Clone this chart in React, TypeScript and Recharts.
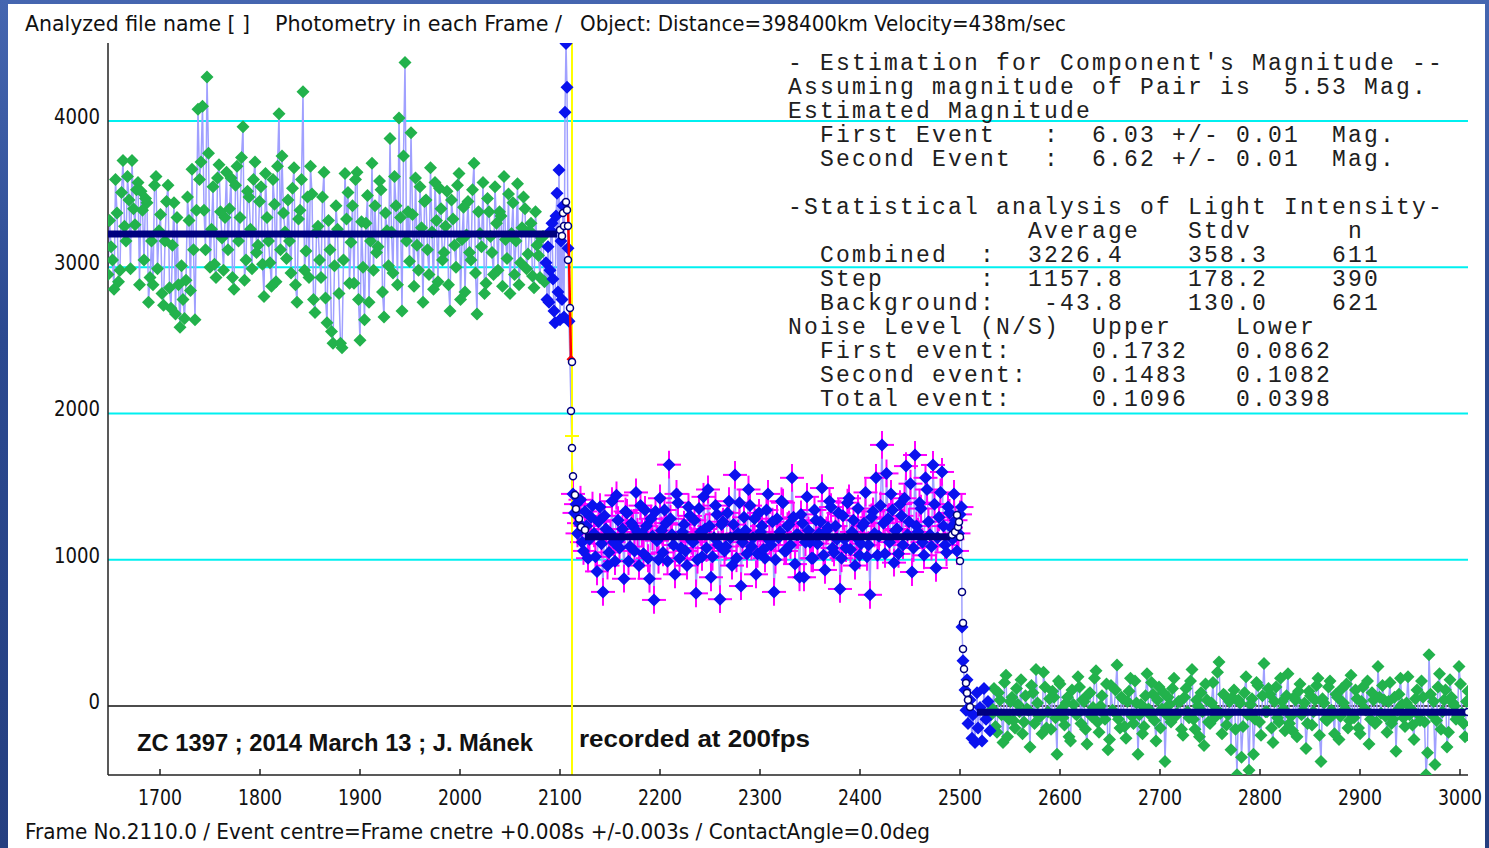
import React from 'react';
import {
  ComposedChart,
  Line,
  Scatter,
  XAxis,
  YAxis,
  CartesianGrid,
  ReferenceLine,
  ErrorBar,
} from 'recharts';

const W = 1489;
const H = 848;

const X_TICKS = [1700, 1800, 1900, 2000, 2100, 2200, 2300, 2400, 2500, 2600, 2700, 2800, 2900, 3000];
const Y_TICKS = [0, 1000, 2000, 3000, 4000];
const GRID_VALUES = [1000, 2000, 3000, 4000];

// combined light (star + companion); two interleaved field samples, every 3rd frame
const COMBINED_START = 1648;
const COMBINED_STEP = 3;
const COMBINED_VALUES = [
  2950, 3140, 2850, 3370, 2980, 3730, 3180, 3460, 3730, 3290,
  3580, 3520, 3050, 3440, 2930, 2880, 3620, 3250, 2820, 3180,
  3560, 2720, 3440, 3340, 2590, 2780, 2910, 3320, 3670, 2640,
  4080, 3720, 3390, 4300, 3000, 3550, 2930, 3700, 3200, 3340,
  3120, 3610, 2850, 3690, 3340, 3960, 3050, 3480, 2990, 3720,
  3150, 3550, 2800, 3340, 3030, 3600, 2900, 4050, 3760, 3240,
  3460, 2960, 3680, 2760, 3390, 4200, 3110, 2930, 3500, 2690,
  3280, 2930, 3650, 2620, 3120, 2480, 3420, 2820, 2450, 3640,
  3510, 3170, 2890, 3650, 2500, 3000, 3300, 2760, 3710, 3420,
  3140, 3530, 2660, 3250, 3880, 2960, 3420, 4020, 2700, 4400,
  3380, 3920, 2870, 3150, 3550, 2760, 3460, 2950, 3240, 3580,
  2900, 3400, 3100, 3520, 2700, 3330, 3000, 3640, 3190, 2830,
  3450, 3050, 3710, 2680, 3230, 3580, 2890, 3380, 3100, 3550,
  2980, 3350, 3620, 3060, 2820, 3440, 3180, 2880, 3270, 3400,
  3090, 3300, 2860, 3150, 2930, 3210,
];
const COMBINED_START_2 = 1649.5;
const COMBINED_VALUES_2 = [
  3320, 3050, 3600, 2900, 3510, 3280, 3620, 2990, 3400, 3530,
  2880, 3390, 3470, 2760, 3180, 3560, 2990, 3360, 2740, 3450,
  2860, 3150, 2680, 2880, 3010, 2650, 3480, 2840, 3120, 3390,
  3600, 4100, 3120, 3780, 3260, 3020, 3610, 3380, 2980, 3650,
  3400, 2930, 3560, 3180, 3750, 2910, 3520, 3260, 3600, 3100,
  3450, 3020, 3640, 3180, 2870, 3430, 3690, 3120, 3370, 3060,
  3180, 3540, 2880, 3330, 3600, 2980, 3480, 3690, 2780, 3240,
  3050, 3480, 2790, 3320, 2560, 3010, 3260, 2480, 3050, 3330,
  2890, 3420, 3600, 2780, 3310, 2640, 3490, 3180, 2980, 3100,
  3590, 2830, 3370, 3010, 3240, 3620, 2880, 3340, 3760, 3180,
  3040, 3360, 3610, 2980, 3270, 3450, 3120, 3680, 2850, 3320,
  3540, 3050, 3280, 2880, 3460, 3150, 3560, 2780, 3410, 3220,
  3100, 3530, 2960, 3380, 3140, 2820, 3470, 3210, 2950, 3300,
  3380, 2870, 3190, 3500, 3230, 2950, 3570, 3030, 3480, 2990,
  3250, 2940, 3380, 3080, 3200, 2900,
];

// frames just before the first event (blue)
const PRE_FRAMES = [2086, 2087, 2088, 2089, 2090, 2091, 2092, 2093, 2094, 2095, 2096, 2097, 2098, 2099, 2100, 2101, 2102, 2103, 2104, 2105, 2106, 2107, 2108, 2109];
const PRE_VALUES = [3030, 2780, 3140, 2760, 2980, 3250, 3300, 2920, 2700, 2620, 3350, 3505, 2830, 3665, 2640, 3180, 2780, 3420, 2660, 4060, 4530, 4230, 3130, 2630];

// step (one component hidden)
const STEP_START = 2113;
const STEP_STEP = 3;
const STEP_VALUES = [
  1450, 1380, 1250, 1120, 1330, 1010, 1290, 1180, 920, 1360,
  780, 1210, 1050, 1400, 990, 1270, 1150, 870, 1320, 1090,
  1230, 1460, 960, 1180, 1340, 1010, 1280, 725, 1130, 1420,
  1050, 1250, 1650, 1170, 900, 1390, 1080, 1240, 960, 1300,
  1120, 770, 1350, 1020, 1210, 1480, 880, 1150, 1310, 730,
  1260, 1090, 1400, 960, 1580, 1180, 820, 1290, 1040, 1370,
  1150, 900, 1320, 1230, 1010, 1450, 1100, 780, 1280, 1190,
  1390, 1060, 1240, 1560, 970, 1170, 1310, 880, 1430, 1120,
  1010, 1270, 1180, 1490, 930, 1220, 1360, 1050, 1140, 800,
  1300, 1080, 1420, 1190, 960, 1350, 1110, 1250, 1020, 760,
  1330, 1560, 1160, 1785, 1040, 1280, 1450, 980, 1210, 1380,
  1100, 1640, 1260, 916, 1716, 1190, 1350, 1030, 1480, 1170,
  1648, 944, 1290, 1600, 1100, 1360, 1220, 1450, 1060, 1310,
];
const STEP_START_2 = 2114.5;
const STEP_VALUES_2 = [
  1320, 1180, 1410, 1060, 1230, 1140, 1370, 1020, 1260, 1110,
  1300, 960, 1180, 1120, 1440, 1080, 1210, 1330, 990, 1250,
  1060, 1190, 1370, 1040, 1230, 870, 1160, 1330, 1000, 1200,
  1340, 990, 1280, 1100, 1450, 1010, 1190, 1060, 1360, 1130,
  1270, 1000, 1190, 1430, 1080, 1230, 1020, 1370, 1100, 1240,
  1060, 1320, 1150, 1240, 1010, 1390, 1120, 1200, 1480, 1090,
  1280, 1040, 1190, 1070, 1340, 1130, 1260, 1000, 1150, 1400,
  1060, 1230, 1100, 1290, 1170, 880, 1250, 1120, 1200, 1010,
  1340, 1110, 1260, 1030, 1200, 1400, 1080, 1230, 1320, 1010,
  1140, 1390, 1070, 1270, 1150, 1030, 1230, 1460, 1100, 1290,
  1180, 1030, 1370, 1250, 1590, 1120, 1340, 1200, 1040, 1300,
  1420, 1170, 1520, 1080, 1230, 1390, 1120, 1560, 1260, 1090,
  1380, 1150, 1460, 1230, 1050, 1320, 1140, 1270, 1180, 1360,
];
const STEP_ERR_X = 12;
const STEP_ERR_Y = 95;

// frames just after the second event (blue)
const POST_FRAMES = [2502, 2503, 2505, 2506, 2507, 2508, 2510, 2512, 2513, 2515, 2517, 2518, 2520, 2522, 2524, 2526, 2528, 2530];
const POST_VALUES = [540, 310, 110, -30, 180, -120, 40, -220, -60, -250, 90, -150, -10, -240, 120, -90, 30, -170];

// background sky
const BG_START = 2531;
const BG_STEP = 3;
const BG_VALUES = [
  -60, 120, -180, 40, -250, 210, -90, 60, -150, 10,
  180, -110, -20, -280, 90, 250, -70, -190, 130, -40,
  -160, 60, -330, 150, -80, 20, -210, 110, -50, 200,
  -120, 30, -260, 90, -10, 240, -180, 70, -90, -300,
  140, -40, 280, -150, 50, -220, 100, -70, 170, -330,
  10, -140, 220, -60, 80, -240, 130, -20, -380, 60,
  -110, 190, -50, 30, -200, 120, -80, 250, -160, 0,
  90, -270, 40, -120, 160, -30, 300, -190, 70, -60,
  -300, 110, -470, 20, -140, 200, -440, 50, -90, 140,
  -200, 290, -40, 80, -250, 130, -110, 30, -170, 220,
  -70, 60, -210, 150, -30, -290, 100, -130, 40, 190,
  -380, 20, -100, 170, -60, 80, -230, 120, -20, -150,
  210, -80, 50, -190, 130, -30, -260, 90, -120, 270,
  -50, 40, -180, 160, -90, -310, 80, 10, -140, 200,
  -20, -230, 110, -100, 60, -470, 350, -60, -400, 130,
  -160, 40, -280, 180, 20, -90, 270, -50, -210, 100,
];
const BG_START_2 = 2532.5;
const BG_VALUES_2 = [
  -20, -140, 90, -60, 160, -210, 30, -100, 120, -40,
  -190, 70, -30, 140, -120, 20, -70, 230, -150, 50,
  100, -80, 170, -20, -130, 60, -240, 10, -60, 130,
  40, -160, 80, -70, 190, -110, 0, -50, 150, -230,
  -30, 110, -90, 60, -140, 30, 190, -120, 20, -60,
  -190, 70, -20, 160, -100, 40, -150, 90, -60, 10,
  120, -70, 30, -160, 60, -40, 170, -90, 40, -210,
  -40, 150, -110, 20, -80, 230, -50, 80, -130, 30,
  60, -160, 40, -350, 90, -60, 10, -330, 160, -110,
  70, -40, 120, -150, 30, -80, 190, -20, 70, -120,
  -170, 40, 100, -60, 20, -120, 70, -40, 140, -200,
  50, -90, 130, -30, -190, 60, -70, 20, 150, -100,
  -60, 110, -150, 30, -20, 170, -90, 40, -110, 60,
  140, -70, 30, -120, 60, -30, 190, -80, 20, -60,
  -130, 50, -60, 170, -110, -320, 80, 30, -100, 220,
  -40, 110, -180, 60, 0, -70, 150, -120, 30,
];

// model light curve (hollow circles)
const MODEL_FRAMES = [2100, 2102, 2103, 2104, 2106, 2107, 2108, 2108, 2110, 2112, 2111, 2112, 2113, 2115, 2116, 2119, 2121, 2125,
  2492, 2495, 2497, 2498, 2499, 2500, 2500, 2502, 2503, 2503, 2504, 2506, 2507, 2508, 2510, 3008];
const MODEL_VALUES = [3255, 3214, 3370, 3282, 3446, 3391, 3282, 3050, 2721, 2352, 2017, 1764, 1570, 1443, 1347, 1280, 1224, 1203,
  1170, 1190, 1306, 1224, 1258, 1156, 991, 779, 567, 390, 253, 157, 89, 41, -7, -41];

const AVG_LEVELS = [3226.4, 1157.8, -43.8];
const AVG_FROM = [1648, 2125, 2517];
const AVG_TO = [2097, 2490, 3008];

const RED_FRAMES = [2108, 2111];
const RED_VALUES = [3420, 2370];

const EVENT_FRAME = 2112;
const MARK_VALUE = 1846;
const MARK_FROM = 2105;
const MARK_TO = 2119;

const INFO_LINES = [
  "- Estimation for Component's Magnitude --",
  'Assuming magnitude of Pair is  5.53 Mag.',
  'Estimated Magnitude',
  '  First Event   :  6.03 +/- 0.01  Mag.',
  '  Second Event  :  6.62 +/- 0.01  Mag.',
  '',
  '-Statistical analysis of Light Intensity-',
  '               Average   Stdv      n',
  '  Combined  :  3226.4    358.3    611',
  '  Step      :  1157.8    178.2    390',
  '  Background:   -43.8    130.0    621',
  'Noise Level (N/S)  Upper    Lower',
  '  First event:     0.1732   0.0862',
  '  Second event:    0.1483   0.1082',
  '  Total event:     0.1096   0.0398',
];

const GREEN = '#22b24c';
const BLUE = '#0a12ee';
const VIOLET = '#a0a0ff';
const NAVY = '#000080';
const MAGENTA = '#ff00ff';
const UI_FONT = '"Liberation Sans Narrow", "DejaVu Sans Condensed", "Liberation Sans", Arial, sans-serif';
const MONO_FONT = '"Liberation Mono", "DejaVu Sans Mono", monospace';

const sampled = (start: number, stepSize: number, values: number[]) =>
  values.map((v, i) => ({ f: start + i * stepSize, v }));

const combined = [
  ...sampled(COMBINED_START, COMBINED_STEP, COMBINED_VALUES),
  ...sampled(COMBINED_START_2, COMBINED_STEP, COMBINED_VALUES_2),
];
const pre = PRE_FRAMES.map((f, i) => ({ f, v: PRE_VALUES[i] }));
const step = [
  ...sampled(STEP_START, STEP_STEP, STEP_VALUES),
  ...sampled(STEP_START_2, STEP_STEP, STEP_VALUES_2),
].map((p) => ({ ...p, ex: STEP_ERR_X, ey: STEP_ERR_Y }));
const post = POST_FRAMES.map((f, i) => ({ f, v: POST_VALUES[i] }));
const background = [
  ...sampled(BG_START, BG_STEP, BG_VALUES),
  ...sampled(BG_START_2, BG_STEP, BG_VALUES_2),
];
const allPoints = [...combined, ...pre, ...step, ...post, ...background].sort((a, b) => a.f - b.f);
const model = MODEL_FRAMES.map((f, i) => ({ f, v: MODEL_VALUES[i] }));
const redSeg = RED_FRAMES.map((f, i) => ({ f, v: RED_VALUES[i] }));
const averages = AVG_LEVELS.map((lvl, i) => [
  { f: AVG_FROM[i], v: lvl },
  { f: AVG_TO[i], v: lvl },
]);

const diamond = (fill: string, s = 6.5) => (props: any) => {
  const { cx, cy } = props;
  if (cx == null || cy == null) return <g />;
  return (
    <polygon
      points={`${cx},${cy - s} ${cx + s},${cy} ${cx},${cy + s} ${cx - s},${cy}`}
      fill={fill}
    />
  );
};

const noShape = () => <g />;

const hollowCircle = (props: any) => {
  const { cx, cy } = props;
  if (cx == null || cy == null) return <g />;
  return <circle cx={cx} cy={cy} r={3.5} fill="#fff" stroke={NAVY} strokeWidth={1.5} />;
};

const redEndDot = (props: any) => {
  const { cx, cy, payload } = props;
  if (!payload || payload.f !== RED_FRAMES[RED_FRAMES.length - 1]) return <g />;
  const s = 4.5;
  return (
    <polygon
      points={`${cx},${cy - s} ${cx + s},${cy} ${cx},${cy + s} ${cx - s},${cy}`}
      fill="#ff0000"
    />
  );
};

const XTick = (props: any) => {
  const { x, y, payload } = props;
  return (
    <g>
      <line x1={x} x2={x} y1={y - 6} y2={y} stroke="#222" strokeWidth={1.5} />
      <text
        x={x}
        y={y + 30}
        textAnchor="middle"
        fontFamily={UI_FONT}
        fontSize={21}
        fill="#111"
        textLength={String(payload.value).length * 11}
        lengthAdjust="spacingAndGlyphs"
      >
        {payload.value}
      </text>
    </g>
  );
};

const YTick = (props: any) => {
  const { x, y, payload } = props;
  const label = String(payload.value);
  return (
    <text
      x={x - 8}
      y={y + 3}
      textAnchor="end"
      fontFamily={UI_FONT}
      fontSize={21}
      fill="#111"
      textLength={label.length * 11.5}
      lengthAdjust="spacingAndGlyphs"
    >
      {label}
    </text>
  );
};

export default function App() {
  return (
    <div
      style={{
        position: 'absolute',
        left: 0,
        top: 0,
        width: W,
        height: H,
        overflow: 'hidden',
        background: 'linear-gradient(180deg, #4566b0 0%, #2b4990 40%, #253f80 100%)',
      }}
    >
      <div style={{ position: 'absolute', left: 8, top: 4, width: 1477, height: 850, background: '#fff' }} />
      <div style={{ position: 'absolute', left: 0, top: 0 }}>
        <ComposedChart width={W} height={H} margin={{ top: 43, right: 21, bottom: 33, left: 48 }}>
          <CartesianGrid
            vertical={false}
            horizontalValues={GRID_VALUES}
            stroke="#00f0f0"
            strokeWidth={2}
          />
          <XAxis
            type="number"
            dataKey="f"
            domain={[1648, 3008]}
            ticks={X_TICKS}
            allowDataOverflow
            height={40}
            tickSize={0}
            tickMargin={0}
            tickLine={false}
            axisLine={{ stroke: '#222', strokeWidth: 1.5 }}
            tick={<XTick />}
          />
          <YAxis
            type="number"
            dataKey="v"
            domain={[-472, 4533]}
            ticks={Y_TICKS}
            allowDataOverflow
            width={60}
            tickSize={0}
            tickMargin={0}
            tickLine={false}
            axisLine={{ stroke: '#222', strokeWidth: 1.5 }}
            tick={<YTick />}
          />
          <ReferenceLine y={0} stroke="#111" strokeWidth={1.5} />
          <Line
            data={allPoints}
            dataKey="v"
            stroke={VIOLET}
            strokeWidth={1.5}
            dot={false}
            activeDot={false}
            isAnimationActive={false}
          />
          <Scatter data={combined} shape={diamond(GREEN)} isAnimationActive={false} />
          <Scatter data={background} shape={diamond(GREEN)} isAnimationActive={false} />
          <Scatter data={step} shape={diamond(BLUE)} isAnimationActive={false}>
            <ErrorBar dataKey="ex" direction="x" width={0} stroke={MAGENTA} strokeWidth={2} isAnimationActive={false} />
            <ErrorBar dataKey="ey" direction="y" width={0} stroke={MAGENTA} strokeWidth={2} isAnimationActive={false} />
          </Scatter>
          <Scatter data={pre} shape={diamond(BLUE)} isAnimationActive={false} />
          <Scatter data={post} shape={diamond(BLUE)} isAnimationActive={false} />
          {averages.map((seg, i) => (
            <Scatter
              key={`avg-${i}`}
              data={seg}
              line={{ stroke: NAVY, strokeWidth: 7 }}
              shape={noShape}
              isAnimationActive={false}
            />
          ))}
          <ReferenceLine x={EVENT_FRAME} stroke="#ffff00" strokeWidth={2} />
          <ReferenceLine
            segment={[
              { x: MARK_FROM, y: MARK_VALUE },
              { x: MARK_TO, y: MARK_VALUE },
            ]}
            stroke="#ffff00"
            strokeWidth={2}
          />
          <Scatter
            data={redSeg}
            line={{ stroke: '#ff0000', strokeWidth: 2.5 }}
            shape={redEndDot}
            isAnimationActive={false}
          />
          <Scatter data={model} shape={hollowCircle} isAnimationActive={false} />
        </ComposedChart>
      </div>
      <svg
        width={W}
        height={H}
        style={{ position: 'absolute', left: 0, top: 0, pointerEvents: 'none' }}
      >
        <g fontFamily={UI_FONT} fontSize={21} fill="#111">
          <text x={25} y={31} textLength={225} lengthAdjust="spacingAndGlyphs">
            Analyzed file name [ ]
          </text>
          <text x={275} y={31} textLength={287} lengthAdjust="spacingAndGlyphs">
            Photometry in each Frame /
          </text>
          <text x={580} y={31} textLength={486} lengthAdjust="spacingAndGlyphs">
            Object: Distance=398400km Velocity=438m/sec
          </text>
          <text x={25} y={839} textLength={905} lengthAdjust="spacingAndGlyphs">
            Frame No.2110.0 / Event centre=Frame cnetre +0.008s +/-0.003s / ContactAngle=0.0deg
          </text>
        </g>
        <g fontFamily='"Liberation Sans", Arial, sans-serif' fontWeight="bold" fontSize={23} fill="#111">
          <text x={137} y={751} textLength={396} lengthAdjust="spacingAndGlyphs">
            ZC 1397 ; 2014 March 13 ; J. Mánek
          </text>
          <text x={579} y={747} textLength={231} lengthAdjust="spacingAndGlyphs">
            recorded at 200fps
          </text>
        </g>
        <g fontFamily={MONO_FONT} fontSize={23} fill="#202020" style={{ whiteSpace: 'pre', letterSpacing: '2.2px' }}>
          {INFO_LINES.map((line, i) => (
            <text key={i} x={788} y={70 + i * 24} xmlSpace="preserve">
              {line}
            </text>
          ))}
        </g>
      </svg>
    </div>
  );
}
